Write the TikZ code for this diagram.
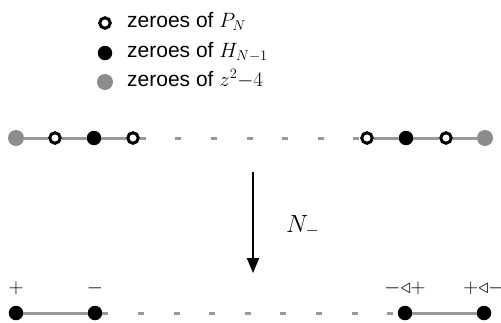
\documentclass[tikz,border=0pt]{standalone}
\usepackage[no-math]{fontspec}
\setmainfont{Liberation Sans}
\usetikzlibrary{arrows.meta}

\begin{document}
\begin{tikzpicture}[x=1pt, y=-1pt, font=\fontsize{21}{25}\selectfont,
    openpt/.style={circle, draw=black, line width=3pt, fill=white, minimum size=10.5pt, inner sep=0pt},
    blackpt/.style={circle, fill=black, minimum size=14.5pt, inner sep=0pt},
    graypt/.style={circle, fill=black!45, minimum size=16pt, inner sep=0pt},
    seg/.style={line width=3pt, draw=black!40},
    gap/.style={line width=3pt, draw=black!40, dash pattern=on 6pt off 29.6pt},
    legend/.style={anchor=base west, inner sep=0pt},
    sign/.style={anchor=base, inner sep=0pt}]
  \useasboundingbox (0,0) rectangle (501,322);
  % legend
  \node[openpt] (kp) at (105,23) {};
  \node[blackpt] (kh) at (105,53) {};
  \node[graypt] (kz) at (105,82) {};
  \node[legend] (tp) at (127,27) {zeroes of $P_N$};
  \node[legend] (th) at (127,57) {zeroes of $H_{N-1}$};
  \node[legend] (tz) at (127,86) {zeroes of $z^2{-}4$};
  % before
  \node[graypt] (a1) at (16,138) {};
  \node[openpt] (a2) at (55,138) {};
  \node[blackpt] (a3) at (94,138) {};
  \node[openpt] (a4) at (133,138) {};
  \node[openpt] (c1) at (367,138) {};
  \node[blackpt] (c2) at (406,138) {};
  \node[openpt] (c3) at (446,138) {};
  \node[graypt] (c4) at (485,138) {};
  \draw[seg] (a1) -- (a2) -- (a3) -- (a4);
  \draw[seg] (c1) -- (c2) -- (c3) -- (c4);
  \draw[gap] (a4) -- (c1);
  % the map
  \coordinate (top) at (253,172);
  \coordinate (bot) at (253,273);
  \draw[line width=2pt, -{Triangle[length=15pt, width=12pt]}] (top) -- (bot);
  \node[anchor=base west, inner sep=0pt, font=\fontsize{24}{28}\selectfont] (nm) at (286,232) {$N_{-}$};
  % after
  \node[blackpt] (b1) at (16,313) {};
  \node[blackpt] (b2) at (95,313) {};
  \node[blackpt] (d1) at (405,313) {};
  \node[blackpt] (d2) at (484,313) {};
  \draw[seg] (b1) -- (b2);
  \draw[seg] (d1) -- (d2);
  \draw[gap] (b2) -- (d1);
  \node[sign] (s1) at (16,293) {$+$};
  \node[sign] (s2) at (95,293) {$-$};
  \node[sign] (s3) at (405,293) {${-}{\triangleleft}{+}$};
  \node[sign] (s4) at (484,293) {${+}{\triangleleft}{-}$};
\end{tikzpicture}
\end{document}
